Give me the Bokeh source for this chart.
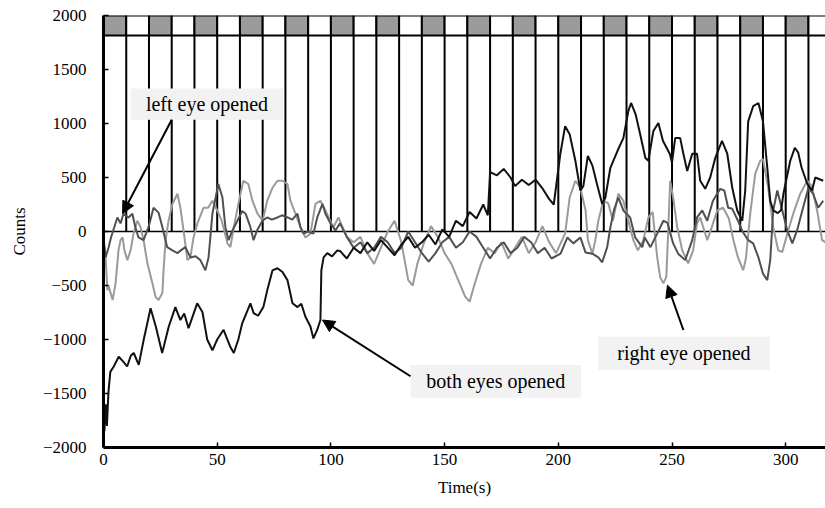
from bokeh.plotting import figure
from bokeh.models import Range1d, FixedTicker, Arrow, NormalHead
from bokeh.core.properties import value
from bokeh.embed import file_html
from bokeh.resources import INLINE

# ---------------- data ----------------
x_ticks = [0, 50, 100, 150, 200, 250, 300]
y_ticks = [-2000, -1500, -1000, -500, 0, 500, 1000, 1500, 2000]

block_starts = list(range(0, 320, 10))          # 10 s stimulation blocks
block_shaded = [i % 2 == 0 for i in range(len(block_starts))]
band_bottom, band_top = 1815, 2000

both_t = [0, 0.4, 1, 1.5, 2.2, 3, 4.5, 6.7, 8.5, 10.4, 12, 13.3, 15.5, 17.7, 20.7, 23, 25.8,
          28.7, 31.6, 33.8, 35.5, 37.4, 41.2, 43.5, 45.6, 47.9, 50, 52.8, 55.8, 57.3, 59.3,
          61, 64.6, 66, 68, 70.3, 72, 74.3, 76.5, 78.7, 80.9, 83.1, 85.3, 87, 88.8, 91, 92.3,
          94, 95.4, 95.8, 96.8, 98.4, 100.5, 102.8, 104, 107, 110, 113, 116, 119, 122, 125,
          128, 131, 134, 137, 140, 143, 146, 149, 152, 155, 158, 161, 164, 167, 169, 170,
          173, 176, 179, 181, 184, 187, 190, 193, 196, 198, 200.9, 203, 205, 207.5, 209.7,
          211, 213, 215, 217, 219.3, 220.7, 222.9, 226, 228.6, 230.8, 232, 234, 236, 238.3,
          239.6, 241.8, 244, 246, 249, 250, 251.4, 253.6, 255, 256.7, 258.9, 261, 262.4,
          264.6, 266.8, 269, 272, 274.3, 276.5, 278.7, 280.9, 282.2, 283.5, 285.7, 288, 290,
          291.9, 293.2, 294.5, 296.5, 298, 299, 302, 304, 305.5, 307, 309.5, 311.6, 313, 316.5]
both_v = [-1150, -1850, -1600, -1800, -1480, -1300, -1250, -1160, -1200, -1250, -1150, -1125,
          -1235, -1000, -710, -880, -1125, -880, -700, -820, -760, -895, -665, -745, -1000,
          -1100, -1000, -910, -1070, -1125, -1000, -850, -665, -755, -780, -700, -545, -360,
          -340, -375, -450, -665, -700, -670, -790, -880, -990, -910, -820, -360, -240, -200,
          -230, -175, -180, -250, -150, -200, -100, -180, -80, -150, -220, -120, -50, -150,
          -100, -30, -120, 20, -50, 100, 50, 180, 120, 250, 150, 550, 520, 580, 500, 420, 480,
          430, 480, 400, 300, 250, 720, 975, 900, 655, 380, 420, 700, 610, 440, 255, 315, 590,
          745, 865, 1115, 1190, 1085, 900, 680, 655, 930, 1005, 840, 720, 640, 865, 865, 720,
          560, 720, 720, 470, 395, 500, 680, 840, 720, 405, 195, 100, 380, 1020, 1160, 1190,
          1020, 590, 285, 195, 170, 200, 350, 655, 775, 730, 590, 440, 380, 500, 470]

left_t = [0, 0.9, 2.2, 3.3, 6.1, 7.5, 8.8, 11, 12.7, 14, 15.4, 17.6, 19.8, 22, 24.2, 25.9, 28,
          30.3, 32.5, 34, 36, 38.2, 40.5, 42.6, 44.8, 46.2, 47.9, 50.5, 52.3, 53.6, 55, 56.7,
          58.9, 61, 62.5, 64.6, 66, 67.5, 69.9, 72, 74, 76.5, 78.5, 81, 83, 85.3, 86.6, 88,
          90, 92.3, 94, 96.3, 97.6, 99.8, 102, 104, 107, 110, 113, 116, 119, 122, 125, 128,
          131, 134, 137, 140, 143, 146, 149, 152, 155, 158, 161, 164, 167, 170, 173, 176, 179,
          182, 185, 188, 191, 194, 197, 201, 204, 206.6, 209.7, 212, 215, 217.6, 219.3, 221.5,
          222.9, 224.5, 226.4, 228.6, 231.6, 233.8, 236.9, 238, 240.5, 243.5, 246.2, 248,
          250.5, 252.7, 255.8, 258.9, 261, 263.3, 265.5, 268, 271.2, 273, 274.7, 276.5, 279,
          281, 283.5, 285.7, 288, 290, 291.9, 293.2, 294.5, 296.3, 298.5, 300.7, 302.9, 305,
          307.3, 310, 312, 314.3, 316.5]
left_v = [-55, -240, -150, -55, 130, 75, 165, 130, 165, 40, -55, -80, 40, 220, 175, 40, -145,
          -175, -200, -175, -145, -240, -230, -265, -360, -240, 165, 440, 315, 40, -80, 10,
          100, 190, 165, 40, -80, 10, 100, 130, 110, 130, 150, 130, 110, 165, 40, -20, 0, -20,
          130, 255, 165, 75, 10, 75, -50, -150, -100, -200, -150, -50, -100, -200, -150, 0,
          -100, -200, -280, -200, -100, -50, -150, -100, 0, -50, -150, -250, -150, -100, -200,
          -150, -50, -100, -200, -150, -250, -205, -55, -110, -55, -195, -205, -240, -285,
          -145, 40, 200, 315, 195, 130, -55, -145, -55, -145, -20, 100, 80, -110, -205, -265,
          -80, 130, 195, 100, 285, 395, 380, 220, 210, 100, 0, -80, -110, -240, -390, -450,
          -265, 195, 380, 195, 10, -110, 10, 195, 405, 350, 220, 285]

right_t = [0, 1, 1.7, 2.2, 4, 5.3, 6.6, 7.5, 8.4, 9.2, 10.5, 11.9, 13.2, 14.9, 16.3, 17.8,
           19.3, 21.5, 22.9, 24.2, 25.9, 26.4, 27.3, 28.6, 30.3, 32.5, 33.8, 35.2, 36.9, 38.2,
           39.6, 41.3, 44, 46, 47.9, 50, 52, 54.5, 55.8, 57.3, 59.3, 61.5, 63.7, 65.5, 67.7,
           70, 72, 74.3, 76.5, 78.7, 80.9, 82.2, 84.4, 86.6, 88.8, 91, 93.2, 95.4, 97, 99,
           101.1, 103.3, 107, 110, 113, 116, 119, 122, 125, 128, 131, 134, 136, 138, 141, 144,
           147, 150, 153, 156, 159, 161, 163, 166, 169, 172, 175, 178, 181, 184, 187, 190,
           193, 196, 199, 201, 203, 205, 207.5, 209.7, 212, 213, 215, 216.3, 217.6, 219.8,
           222, 224, 226.4, 228.6, 230.8, 233, 235, 237.4, 239.6, 241.5, 243.5, 244.8, 246.2,
           247.5, 248.4, 249.2, 250.5, 252.3, 254.5, 257.1, 259.3, 261, 262.4, 265.5, 267.5,
           269.9, 272.5, 275, 277, 279, 281.3, 282.5, 284.4, 286.6, 288.8, 290, 292.3, 294.5,
           296.7, 298.5, 300.7, 303.3, 306.4, 309.5, 311.5, 313.8, 316, 317.5]
right_v = [-80, -265, -545, -500, -635, -480, -175, -80, -55, -175, -265, -175, -20, 100, 40,
           -100, -295, -480, -605, -635, -570, -360, -80, 100, 255, 350, 220, 10, -265, -240,
           -55, 75, 220, 220, 285, 195, 100, -110, -145, 40, 255, 470, 440, 285, 165, 100,
           285, 405, 470, 470, 440, 285, 165, 40, -55, -20, 255, 285, 220, 130, 40, 130, -50,
           -100, -50, -200, -300, -150, 0, 100, -100, -450, -500, -300, -100, 50, -50, -200,
           -300, -450, -600, -650, -500, -300, -150, -200, -100, -250, -150, -50, -200, -100,
           50, -100, -200, -110, -20, 315, 470, 405, 195, -80, -205, -80, 100, 285, 260, 100,
           350, 285, 100, -80, -175, -80, 130, 180, -240, -425, -480, -420, 40, 470, 315, 40,
           -175, -295, -175, 75, 130, -80, 40, 195, 220, 120, -80, -240, -360, -250, 165, 535,
           655, 670, 405, 40, -175, -190, -20, 165, 350, 470, 420, 195, -80, -100]

notes_text = ["left eye opened", "both eyes opened", "right eye opened"]
notes_box = [(12, 79, 1035, 1325), (135, 210, -1235, -1540), (217.5, 293, -975, -1280)]
notes_arrow = [(30, 1035, 8.4, 166), (135, -1340, 96.3, -820), (255, -912, 248, -497)]

# ---------------- figure ----------------
SERIF = "Liberation Serif"
p = figure(width=825, height=508, output_backend="svg", toolbar_location=None,
           x_range=Range1d(0, 317.5), y_range=Range1d(-2000, 2000),
           min_border_left=103, min_border_right=0, min_border_top=15, min_border_bottom=61)
p.outline_line_color = None
p.xgrid.visible = False
p.ygrid.visible = False
p.background_fill_color = "white"

# stimulation band
lefts = block_starts
rights = [b + 10 for b in block_starts]
fills = ["#9b9b9b" if s else "white" for s in block_shaded]
p.quad(left=lefts, right=rights, bottom=band_bottom, top=band_top,
       fill_color=fills, line_color="black", line_width=2)
# vertical block lines down to zero
vx = [b for b in block_starts if b > 0]
p.segment(x0=vx, y0=[0] * len(vx), x1=vx, y1=[band_bottom] * len(vx),
          line_color="black", line_width=2)
# zero line
p.segment(x0=[0], y0=[0], x1=[317.5], y1=[0], line_color="black", line_width=1.5)

# series
p.line(right_t, right_v, line_color="#9a9a9a", line_width=2)
p.line(left_t, left_v, line_color="#505050", line_width=2)
p.line(both_t, both_v, line_color="#111111", line_width=2)

# annotations
for (x0, x1, ya, yb), txt, (sx, sy, ex, ey) in zip(notes_box, notes_text, notes_arrow):
    p.quad(left=[x0], right=[x1], bottom=[min(ya, yb)], top=[max(ya, yb)],
           fill_color="#f2f2f2", line_color=None)
    p.text(x=[(x0 + x1) / 2], y=[(ya + yb) / 2], text=[txt], text_font=value(SERIF),
           text_font_size="20px", text_align="center", text_baseline="middle",
           text_color="black")
    p.add_layout(Arrow(end=NormalHead(size=12, fill_color="black", line_color="black"),
                       x_start=sx, y_start=sy, x_end=ex, y_end=ey,
                       line_color="black", line_width=2))

# axes
for ax in (p.xaxis[0], p.yaxis[0]):
    ax.axis_line_width = 3
    ax.axis_line_color = "black"
    ax.major_tick_in = 5
    ax.major_tick_out = 0
    ax.minor_tick_in = 0
    ax.minor_tick_out = 0
    ax.major_tick_line_width = 1.5
    ax.major_tick_line_color = "black"
    ax.major_label_text_font = SERIF
    ax.major_label_text_font_size = "17px"
    ax.major_label_text_color = "black"
    ax.axis_label_text_font = SERIF
    ax.axis_label_text_font_size = "17px"
    ax.axis_label_text_font_style = "normal"
    ax.axis_label_text_color = "black"

p.xaxis.ticker = FixedTicker(ticks=x_ticks)
p.yaxis.ticker = FixedTicker(ticks=y_ticks)
p.xaxis.axis_label = "Time(s)"
p.yaxis.axis_label = "Counts"
p.xaxis.major_label_standoff = 6
p.yaxis.major_label_standoff = 17
p.xaxis.axis_label_standoff = 10
p.yaxis.axis_label_standoff = 11

open("out.html", "w").write(file_html(p, INLINE))
